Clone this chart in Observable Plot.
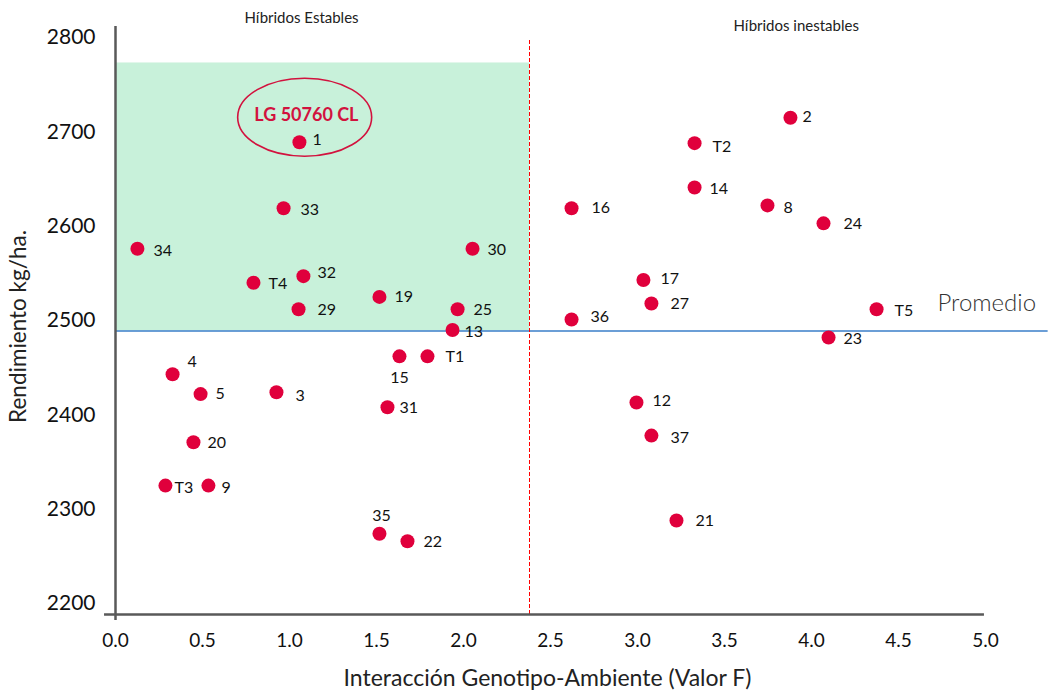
<!DOCTYPE html>
<html>
<head>
<meta charset="utf-8">
<script src="https://cdn.jsdelivr.net/npm/d3@7"></script>
<script src="https://cdn.jsdelivr.net/npm/@observablehq/plot@0.6"></script>
<style>
  html, body { margin: 0; padding: 0; background: #fff; }
  #chart svg { display: block; }
</style>
</head>
<body>
<div id="chart"></div>
<script>
// ---- Data ----
const names = ["1","33","34","30","32","T4","19","29","25","13","15","T1","4","5","3","31","20","T3","9","35","22",
               "2","T2","14","16","8","24","17","27","36","T5","23","12","37","21"];
const interaccion = [1.057,0.966,0.126,2.052,1.080,0.793,1.517,1.052,1.966,1.937,1.632,1.793,0.328,0.489,0.925,1.563,0.448,0.287,0.534,1.517,1.678,
                     3.879,3.328,3.328,2.621,3.747,4.069,3.034,3.080,2.621,4.374,4.098,2.994,3.080,3.224];
const rendimiento = [2689,2619,2576,2576,2547,2540,2525,2512,2512,2490,2462,2462,2443,2422,2424,2408,2371,2325,2325,2274,2266,
                     2715,2688,2641,2619,2622,2603,2543,2518,2501,2512,2482,2413,2378,2288];
const xTicks = [0, 0.5, 1, 1.5, 2, 2.5, 3, 3.5, 4, 4.5, 5];
const yTicks = [2200, 2300, 2400, 2500, 2600, 2700, 2800];
const promedio = 2489;        // mean yield line
const limiteEstable = 2.38;   // stable / unstable threshold (Valor F)
const techoZona = 2773;       // top of stable zone shading

const data = names.map((n, i) => ({name: n, x: interaccion[i], y: rendimiento[i]}));

// label placement (pixel offsets from each point)
const labelOffset = {
  "1":[13,-2], "33":[17,2], "34":[16,2], "30":[15,1], "32":[14,-3], "T4":[15,1], "19":[15,0], "29":[19,1],
  "25":[16,1], "13":[12,2], "15":[0,22,"middle"], "T1":[18,1], "4":[15,-12], "5":[15,0], "3":[19,4],
  "31":[12,1], "20":[14,1], "T3":[9,2], "9":[13,2], "35":[2,-18,"middle"], "22":[16,1],
  "2":[12,-1], "T2":[18,4], "14":[15,1], "16":[20,0], "8":[16,2], "24":[20,1], "17":[17,-1],
  "27":[19,0], "36":[19,-3], "T5":[18,2], "23":[15,1], "12":[16,-2], "37":[19,2], "21":[19,0]
};

const font = "Lato, 'Open Sans', 'DejaVu Sans', sans-serif";
const red = "#e0003c";

const labelMarks = data.map(d => {
  const o = labelOffset[d.name] || [15, 0];
  return Plot.text([d], {x: "x", y: "y", text: "name", dx: o[0], dy: o[1],
    textAnchor: o[2] || "start", lineAnchor: "middle", fontSize: 16, fill: "#111"});
});

// ellipse highlighting LG 50760 CL
const ellipseMark = (index, scales) => {
  const e = document.createElementNS("http://www.w3.org/2000/svg", "ellipse");
  e.setAttribute("cx", scales.x(1.090));
  e.setAttribute("cy", scales.y(2715));
  e.setAttribute("rx", 67);
  e.setAttribute("ry", 39);
  e.setAttribute("fill", "none");
  e.setAttribute("stroke", "#d2123e");
  e.setAttribute("stroke-width", 1.6);
  return e;
};

const chart = Plot.plot({
  width: 1055,
  height: 693,
  marginLeft: 115,
  marginRight: 70,
  marginTop: 37,
  marginBottom: 90,
  style: {fontFamily: font, color: "#111", background: "#fff", overflow: "visible"},
  x: {domain: [0, 5]},
  y: {domain: [2200, 2800]},
  marks: [
    Plot.rect([0], {x1: 0, x2: limiteEstable, y1: promedio, y2: techoZona, fill: "#c8f1da"}),
    Plot.ruleY([promedio], {x1: 0, x2: 5.36, stroke: "#3a7ec8", strokeWidth: 1.5}),
    Plot.ruleX([limiteEstable], {y1: 2188.3, y2: 2798, stroke: "#ff0000", strokeWidth: 1.2, strokeDasharray: "4,2", shapeRendering: "crispEdges"}),
    // axis lines
    Plot.ruleX([0], {y1: 2182, y2: 2811.7, stroke: "#595959", strokeWidth: 2.5}),
    Plot.ruleY([2188.3], {x1: -0.063, x2: 4.994, stroke: "#595959", strokeWidth: 2.5}),
    Plot.axisX({ticks: xTicks, tickFormat: d3.format(".1f"), tickSize: 0, tickPadding: 30, fontSize: 19, label: null}),
    Plot.axisY({ticks: yTicks, tickFormat: d => String(d), tickSize: 0, tickPadding: 20, fontSize: 21, label: null}),
    Plot.text(["Interacción Genotipo-Ambiente (Valor F)"], {frameAnchor: "bottom", dx: -3, dy: 75, fontSize: 23, textAnchor: "middle", lineAnchor: "middle", fill: "#222"}),
    Plot.text(["Rendimiento kg/ha."], {frameAnchor: "left", dx: -97, dy: 6, rotate: -90, fontSize: 22.5, textAnchor: "middle", lineAnchor: "middle", fill: "#222"}),
    Plot.text(["Híbridos Estables"], {x: 1.069, y: 2820, fontSize: 15, lineAnchor: "middle", fill: "#222"}),
    Plot.text(["Híbridos inestables"], {x: 3.912, y: 2812, fontSize: 15, lineAnchor: "middle", fill: "#222"}),
    Plot.text(["Promedio"], {x: 4.724, y: 2518, textAnchor: "start", lineAnchor: "middle", fontSize: 24, fontWeight: 300, fill: "#333"}),
    Plot.dot(data, {x: "x", y: "y", r: 7, fill: red, stroke: "none"}),
    ...labelMarks,
    Plot.text(["LG 50760 CL"], {x: 1.097, y: 2718, fontSize: 18, fontWeight: "bold", fill: "#d2123e", lineAnchor: "middle"}),
    ellipseMark
  ]
});
document.getElementById("chart").appendChild(chart);
</script>
</body>
</html>
